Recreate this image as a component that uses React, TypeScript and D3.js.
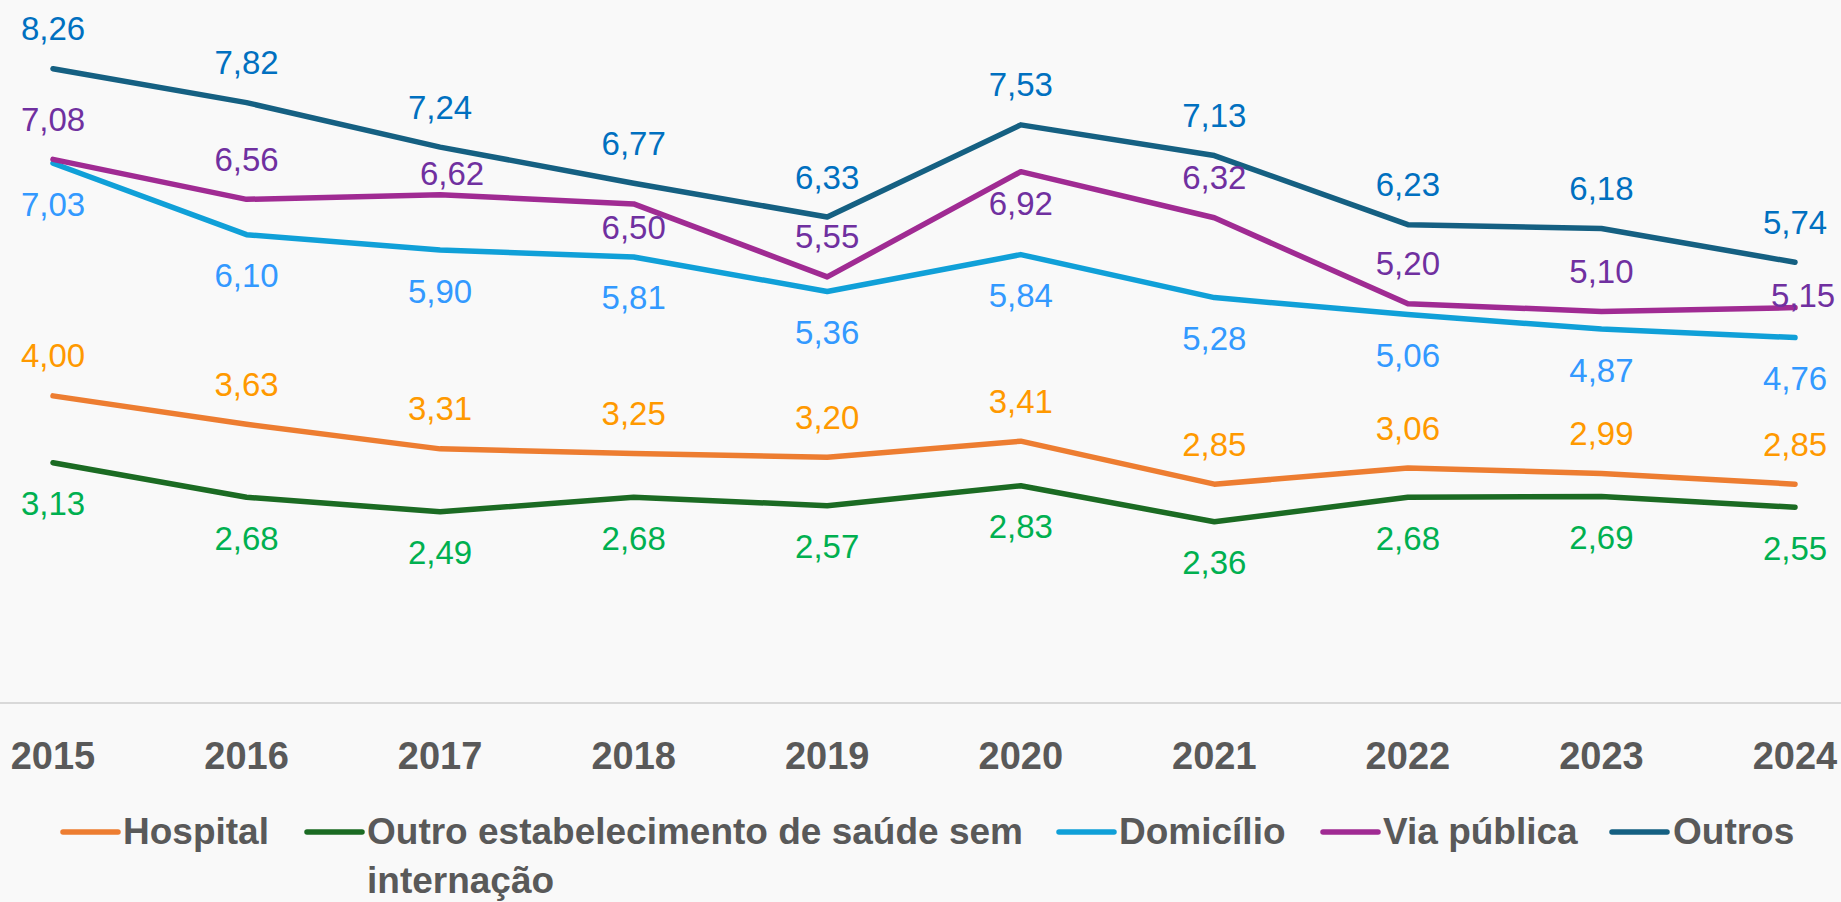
import { useEffect, useRef } from 'react'
import * as d3 from 'd3'

const years = ['2015', '2016', '2017', '2018', '2019', '2020', '2021', '2022', '2023', '2024']

const hospital = [4.0, 3.63, 3.31, 3.25, 3.2, 3.41, 2.85, 3.06, 2.99, 2.85]
const outroEstab = [3.13, 2.68, 2.49, 2.68, 2.57, 2.83, 2.36, 2.68, 2.69, 2.55]
const domicilio = [7.03, 6.1, 5.9, 5.81, 5.36, 5.84, 5.28, 5.06, 4.87, 4.76]
const viaPublica = [7.08, 6.56, 6.62, 6.5, 5.55, 6.92, 6.32, 5.2, 5.1, 5.15]
const outros = [8.26, 7.82, 7.24, 6.77, 6.33, 7.53, 7.13, 6.23, 6.18, 5.74]

const seriesNames = ['Hospital', 'Outro estabelecimento de saúde sem internação', 'Domicílio', 'Via pública', 'Outros']

interface Series {
  name: string
  values: number[]
  line: string
  label: string
  pos: 'above' | 'below'
}

const W = 1841
const H = 902

export default function App() {
  const svgRef = useRef<SVGSVGElement>(null)

  useEffect(() => {
    if (!svgRef.current) return
    const svg = d3.select(svgRef.current)
    svg.selectAll('*').remove()

    const series: Series[] = [
      { name: seriesNames[0], values: hospital, line: '#ed7d31', label: '#ff9900', pos: 'above' },
      { name: seriesNames[1], values: outroEstab, line: '#1b6b23', label: '#00b050', pos: 'below' },
      { name: seriesNames[2], values: domicilio, line: '#10a0d8', label: '#3399ff', pos: 'below' },
      { name: seriesNames[3], values: viaPublica, line: '#a02b93', label: '#7030a0', pos: 'above' },
      { name: seriesNames[4], values: outros, line: '#156082', label: '#0070c0', pos: 'above' },
    ]

    // a few labels were nudged by hand in the original to dodge the lines
    const nudges: Record<string, [number, number]> = {
      '3-2': [12, -21],
      '3-3': [0, 24],
      '3-5': [0, 32],
      '3-9': [8, -12],
    }

    svg.append('rect').attr('width', W).attr('height', H).attr('fill', '#f9f9f9')

    const x = d3.scalePoint<string>().domain(years).range([53, 1795])
    const y = d3.scaleLinear().domain([0, 9]).range([703, 12])

    // baseline
    svg.append('line')
      .attr('x1', 0).attr('x2', W)
      .attr('y1', y(0)).attr('y2', y(0))
      .attr('stroke', '#d9d9d9').attr('stroke-width', 2)

    // year labels
    svg.append('g')
      .selectAll('text')
      .data(years)
      .enter()
      .append('text')
      .attr('x', d => x(d)!)
      .attr('y', 769)
      .attr('text-anchor', 'middle')
      .attr('font-family', 'Liberation Sans, Arial, sans-serif')
      .attr('font-weight', 'bold')
      .attr('font-size', '38px')
      .attr('fill', '#595959')
      .text(d => d)

    const line = d3.line<number>()
      .x((_, i) => x(years[i])!)
      .y(d => y(d))

    series.forEach(s => {
      svg.append('path')
        .attr('d', line(s.values))
        .attr('fill', 'none')
        .attr('stroke', s.line)
        .attr('stroke-width', 5.5)
        .attr('stroke-linejoin', 'round')
        .attr('stroke-linecap', 'round')
    })

    series.forEach((s, si) => {
      svg.append('g')
        .selectAll('text')
        .data(s.values)
        .enter()
        .append('text')
        .attr('x', (_, i) => x(years[i])! + (nudges[`${si}-${i}`]?.[0] ?? 0))
        .attr('y', (d, i) => {
          const n = nudges[`${si}-${i}`]
          if (n) return y(d) + n[1]
          return y(d) + (s.pos === 'above' ? -40 : 41)
        })
        .attr('dy', '0.35em')
        .attr('text-anchor', 'middle')
        .attr('font-family', 'Liberation Sans, Arial, sans-serif')
        .attr('font-size', '33px')
        .attr('fill', s.label)
        .text(d => d.toFixed(2).replace('.', ','))
    })

    // legend
    const legendItems = [
      { x: 63, textX: 123, lines: ['Hospital'] },
      { x: 307, textX: 367, lines: ['Outro estabelecimento de saúde sem', 'internação'] },
      { x: 1059, textX: 1119, lines: ['Domicílio'] },
      { x: 1323, textX: 1383, lines: ['Via pública'] },
      { x: 1612, textX: 1673, lines: ['Outros'] },
    ]
    const legend = svg.append('g')
    legendItems.forEach((item, i) => {
      legend.append('line')
        .attr('x1', item.x).attr('x2', item.x + 55)
        .attr('y1', 832).attr('y2', 832)
        .attr('stroke', series[i].line)
        .attr('stroke-width', 5.5)
        .attr('stroke-linecap', 'round')
      item.lines.forEach((t, k) => {
        legend.append('text')
          .attr('x', item.textX)
          .attr('y', 844 + k * 49)
          .attr('font-family', 'Liberation Sans, Arial, sans-serif')
          .attr('font-weight', 'bold')
          .attr('font-size', '37px')
          .attr('fill', '#595959')
          .text(t)
      })
    })
  }, [])

  return (
    <svg
      ref={svgRef}
      width={W}
      height={H}
      style={{ position: 'absolute', left: 0, top: 0, display: 'block' }}
    />
  )
}
